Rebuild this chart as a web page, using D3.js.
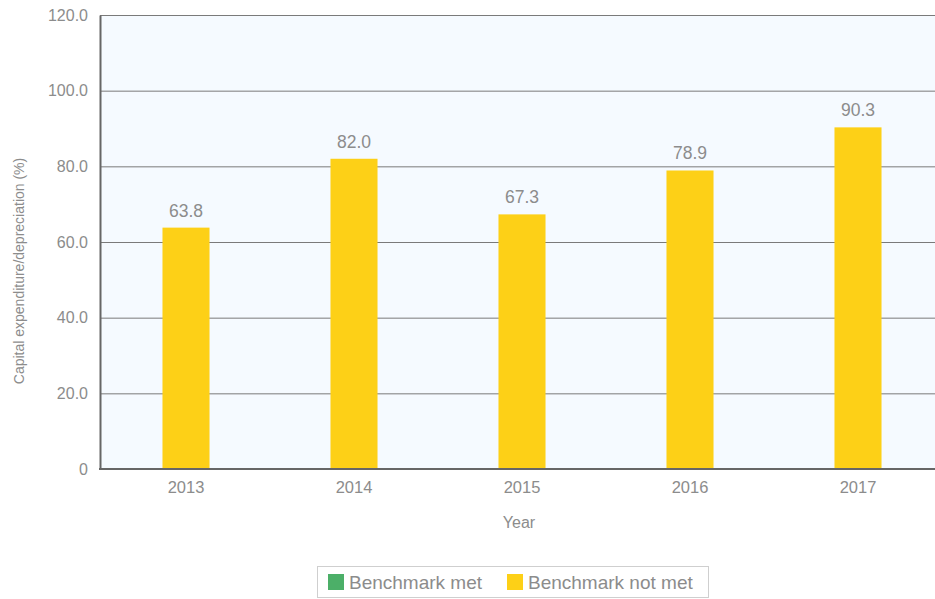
<!DOCTYPE html>
<html>
<head>
<meta charset="utf-8">
<script src="https://cdn.jsdelivr.net/npm/d3@7/dist/d3.min.js"></script>
<style>
  html, body { margin: 0; padding: 0; background: #ffffff; }
  svg { display: block; font-family: "Liberation Sans", Arial, sans-serif; }
</style>
</head>
<body>
<svg id="chart" width="935" height="599"></svg>
<script>
// Capital expenditure as a share of depreciation, by year
const years = ["2013", "2014", "2015", "2016", "2017"];
const ratios = [63.8, 82.0, 67.3, 78.9, 90.3];
const benchmarkMet = [false, false, false, false, false];
const yTicks = [0, 20, 40, 60, 80, 100, 120];
const legendItems = ["Benchmark met", "Benchmark not met"];

const colMet = "#4caf68";
const colNotMet = "#fdd017";
const textCol = "#8c8c8c";

const svg = d3.select("#chart");
const margin = { left: 100, top: 15, right: 0, bottom: 130 };
const W = 935, H = 599;
const plotBottom = H - margin.bottom; // 469

const x = d3.scaleBand()
  .domain(years)
  .range([margin.left + 2, margin.left + 2 + 168 * years.length])
  .paddingInner(0.72)
  .paddingOuter(0.36);

const y = d3.scaleLinear().domain([0, 120]).range([plotBottom, margin.top]);

// plot background
svg.append("rect")
  .attr("x", margin.left).attr("y", margin.top)
  .attr("width", W - margin.left).attr("height", plotBottom - margin.top)
  .attr("fill", "#f5faff");

// horizontal gridlines
svg.append("g")
  .selectAll("line")
  .data(yTicks.filter(t => t > 0))
  .join("line")
  .attr("x1", margin.left).attr("x2", W)
  .attr("y1", d => y(d) + 0.5).attr("y2", d => y(d) + 0.5)
  .attr("stroke", "#7a7a7a").attr("stroke-width", 1);

// bars
svg.append("g")
  .selectAll("rect")
  .data(years)
  .join("rect")
  .attr("x", d => x(d))
  .attr("width", x.bandwidth())
  .attr("y", (d, i) => y(ratios[i]))
  .attr("height", (d, i) => y(0) - y(ratios[i]))
  .attr("fill", (d, i) => benchmarkMet[i] ? colMet : colNotMet);

// value labels
svg.append("g")
  .selectAll("text")
  .data(years)
  .join("text")
  .attr("x", d => x(d) + x.bandwidth() / 2)
  .attr("y", (d, i) => y(ratios[i]) - 11)
  .attr("text-anchor", "middle")
  .attr("font-size", 17.5)
  .attr("fill", textCol)
  .text((d, i) => ratios[i].toFixed(1));

// y axis
const yAxis = d3.axisLeft(y)
  .tickValues(yTicks)
  .tickSize(0)
  .tickPadding(12)
  .tickFormat(d => d === 0 ? "0" : d.toFixed(1));
const gy = svg.append("g")
  .attr("transform", `translate(${margin.left},0)`)
  .call(yAxis);
gy.select(".domain").attr("stroke", "#666").attr("stroke-width", 2);
gy.selectAll("text").attr("font-size", 16).attr("fill", textCol)
  .attr("font-family", "Liberation Sans, Arial, sans-serif");

// x axis
const xAxis = d3.axisBottom(x).tickSize(0).tickPadding(12);
const gx = svg.append("g")
  .attr("transform", `translate(0,${plotBottom})`)
  .call(xAxis);
gx.select(".domain").remove();
gx.selectAll("text").attr("font-size", 16.5).attr("fill", textCol)
  .attr("font-family", "Liberation Sans, Arial, sans-serif");
svg.append("line")
  .attr("x1", margin.left - 1).attr("x2", W)
  .attr("y1", plotBottom).attr("y2", plotBottom)
  .attr("stroke", "#666").attr("stroke-width", 2);

// axis titles
svg.append("text")
  .attr("x", 519).attr("y", 528)
  .attr("text-anchor", "middle")
  .attr("font-size", 16).attr("fill", textCol)
  .text("Year");

svg.append("text")
  .attr("transform", "translate(24,271) rotate(-90)")
  .attr("text-anchor", "middle")
  .attr("font-size", 14).attr("fill", textCol)
  .text("Capital expenditure/depreciation (%)");

// legend
const legend = svg.append("g");
legend.append("rect")
  .attr("x", 317.5).attr("y", 566.5).attr("width", 391).attr("height", 31)
  .attr("fill", "#ffffff").attr("stroke", "#cfcfcf").attr("stroke-width", 1);
const legendX = [328, 507];
const legendColors = [colMet, colNotMet];
legendItems.forEach((label, i) => {
  legend.append("rect")
    .attr("x", legendX[i]).attr("y", 574).attr("width", 16).attr("height", 16)
    .attr("fill", legendColors[i]);
  legend.append("text")
    .attr("x", legendX[i] + 21).attr("y", 589)
    .attr("font-size", 19).attr("fill", textCol)
    .text(label);
});
</script>
</body>
</html>
